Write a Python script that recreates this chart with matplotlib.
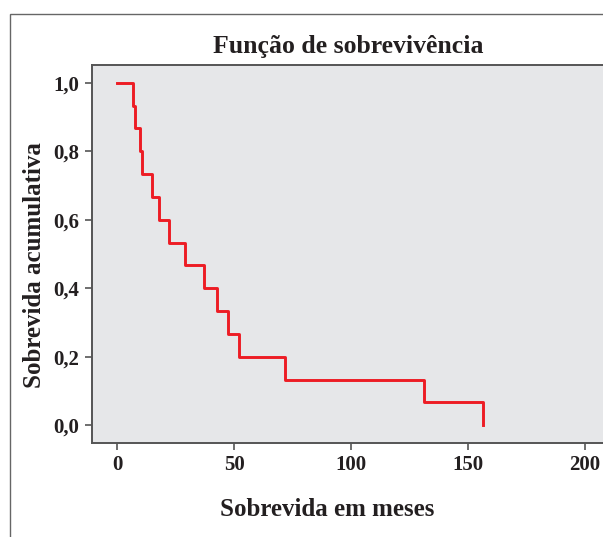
import matplotlib
matplotlib.use('Agg')
import matplotlib.pyplot as plt
from matplotlib.patches import Rectangle

# Kaplan-Meier estimate (months, cumulative survival)
tempos = [0, 7.0, 7.7, 9.8, 10.8, 15.1, 18.1, 22.4, 29.2, 37.3, 42.9, 47.3, 52.3, 71.8, 131.4, 156.3]
sobrevida = [1.0, 0.933, 0.867, 0.800, 0.733, 0.667, 0.600, 0.533, 0.467, 0.400,
             0.333, 0.267, 0.200, 0.133, 0.067, 0.0]
x_ticks = [0, 50, 100, 150, 200]
y_ticks = [0.0, 0.2, 0.4, 0.6, 0.8, 1.0]
y_tick_labels = ['0,0', '0,2', '0,4', '0,6', '0,8', '1,0']

plt.rcParams['font.family'] = ['Liberation Serif', 'DejaVu Serif']
plt.rcParams['font.weight'] = 'bold'
text_color = '#231f20'
axis_color = '#555555'

fig = plt.figure(figsize=(6.03, 5.37), dpi=100)

# outer frame of the figure box (runs off to the right and bottom)
fig.patches.append(Rectangle((10 / 603, -0.1), 1.2, 1 - 13.5 / 537 + 0.1,
                             transform=fig.transFigure, fill=False,
                             edgecolor='#666666', linewidth=1.0))

ax = fig.add_axes([92 / 603, 94 / 537, 528 / 603, 378 / 537])
ax.set_facecolor('#e6e7e9')
ax.step(tempos, sobrevida, where='post', color='#ed1c24', linewidth=2.1)

ax.set_xlim(-10.7, 215)
ax.set_ylim(-0.0526, 1.0526)
ax.set_xticks(x_ticks)
ax.set_yticks(y_ticks)
ax.set_yticklabels(y_tick_labels)

for side in ['left', 'bottom', 'top']:
    ax.spines[side].set_color(axis_color)
    ax.spines[side].set_linewidth(1.4)
ax.spines['right'].set_visible(False)
ax.tick_params(direction='out', length=5, width=1.2, color=axis_color,
               labelsize=15, labelcolor=text_color, pad=4)
for lbl in ax.get_xticklabels() + ax.get_yticklabels():
    lbl.set_fontweight('bold')

fig.text(348 / 603, 1 - 46 / 537, 'Função de sobrevivência', ha='center', va='center',
         fontsize=18.5, fontweight='bold', color=text_color)
fig.text(327 / 603, 1 - 510 / 537, 'Sobrevida em meses', ha='center', va='center',
         fontsize=18, fontweight='bold', color=text_color)
fig.text(35 / 603, 1 - 265 / 537, 'Sobrevida acumulativa', ha='center', va='center',
         rotation=90, fontsize=18, fontweight='bold', color=text_color)

fig.savefig('out.png', dpi=100)
